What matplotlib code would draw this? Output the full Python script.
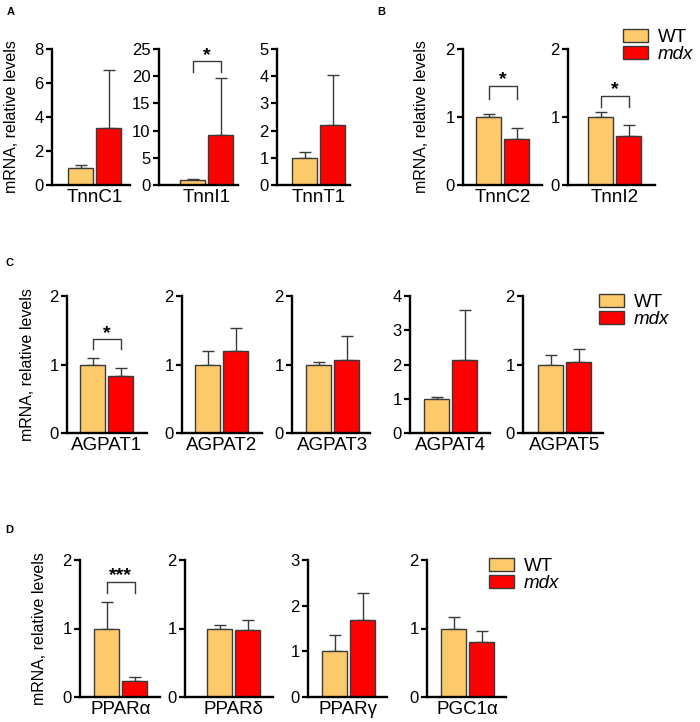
"""WT vs mdx mRNA levels, four panels of small bar charts (A-D)."""
import matplotlib
matplotlib.use("Agg")
import matplotlib.pyplot as plt
from matplotlib.patches import Patch

plt.rcParams["font.family"] = ["Liberation Sans", "DejaVu Sans"]

WT_COLOR = "#FDCA6B"
MDX_COLOR = "#FF0000"
EDGE = "#3a3a3a"

# --- data (mean, and upper error as distance above the mean) ---
genes_a = ["TnnC1", "TnnI1", "TnnT1"]
wt_a = [1.0, 1.0, 1.0]
wt_err_a = [0.2, 0.1, 0.22]
mdx_a = [3.35, 9.1, 2.22]
mdx_err_a = [3.4, 10.6, 1.83]
ymax_a = [8, 25, 5]
ystep_a = [2, 5, 1]
sig_a = [None, ("*", 20.7, 22.8), None]

genes_b = ["TnnC2", "TnnI2"]
wt_b = [1.0, 1.0]
wt_err_b = [0.05, 0.07]
mdx_b = [0.68, 0.72]
mdx_err_b = [0.16, 0.16]
ymax_b = [2, 2]
ystep_b = [1, 1]
sig_b = [("*", 1.27, 1.46), ("*", 1.15, 1.31)]

genes_c = ["AGPAT1", "AGPAT2", "AGPAT3", "AGPAT4", "AGPAT5"]
wt_c = [1.0, 1.0, 1.0, 1.0, 1.0]
wt_err_c = [0.1, 0.19, 0.04, 0.04, 0.14]
mdx_c = [0.83, 1.2, 1.07, 2.12, 1.04]
mdx_err_c = [0.12, 0.33, 0.35, 1.46, 0.19]
ymax_c = [2, 2, 2, 4, 2]
ystep_c = [1, 1, 1, 1, 1]
sig_c = [("*", 1.23, 1.37), None, None, None, None]

genes_d = ["PPARα", "PPARδ", "PPARγ", "PGC1α"]
wt_d = [1.0, 1.0, 1.0, 1.0]
wt_err_d = [0.38, 0.05, 0.35, 0.17]
mdx_d = [0.23, 0.98, 1.68, 0.8]
mdx_err_d = [0.06, 0.14, 0.6, 0.17]
ymax_d = [2, 2, 3, 2]
ystep_d = [1, 1, 1, 1]
sig_d = [("***", 1.52, 1.68), None, None, None]

FIG_W, FIG_H = 700, 722
UNIT = 28.0  # pixels between the two bar centres


def add_px_axes(fig, left, width, gap, top, zero):
    ax = fig.add_axes([left / FIG_W, 1 - zero / FIG_H, width / FIG_W, (zero - top) / FIG_H])
    x0 = -(gap + 12.5) / UNIT
    ax.set_xlim(x0, x0 + width / UNIT)
    return ax


def draw_gene(ax, gene, wt, wt_err, mdx, mdx_err, ymax, ystep, sig):
    ax.bar([0, 1], [wt, mdx], width=0.89, color=[WT_COLOR, MDX_COLOR],
           edgecolor=EDGE, linewidth=1.0, zorder=2)
    ax.errorbar([0, 1], [wt, mdx], yerr=[[0, 0], [wt_err, mdx_err]], fmt="none",
                ecolor=EDGE, elinewidth=1.0, capsize=4.5, capthick=1.0, zorder=1)
    ax.set_ylim(0, ymax)
    ax.set_yticks(range(0, ymax + 1, ystep))
    ax.set_xticks([0.5])
    ax.set_xticklabels([gene], fontsize=13.5)
    ax.tick_params(axis="x", length=0, pad=3)
    ax.tick_params(axis="y", length=4.5, width=1.6, pad=1.5, labelsize=12)
    for side in ("top", "right"):
        ax.spines[side].set_visible(False)
    for side in ("left", "bottom"):
        ax.spines[side].set_linewidth(1.7)
    if sig is not None:
        label, leg, top = sig
        ax.plot([0, 0, 1, 1], [leg, top, top, leg], color=EDGE, lw=1.0, clip_on=False)
        ax.annotate(label, (0.5, top), xytext=(0, 1), textcoords="offset points",
                    ha="center", va="baseline", fontsize=14, fontweight="bold",
                    annotation_clip=False)


def draw_row(fig, layout, top, zero, genes, wt, wt_err, mdx, mdx_err, ymax, ystep, sig):
    for i, (left, width, gap) in enumerate(layout):
        ax = add_px_axes(fig, left, width, gap, top, zero)
        draw_gene(ax, genes[i], wt[i], wt_err[i], mdx[i], mdx_err[i], ymax[i], ystep[i], sig[i])


def add_legend(fig, left, top):
    handles = [Patch(facecolor=WT_COLOR, edgecolor=EDGE, linewidth=1.0),
               Patch(facecolor=MDX_COLOR, edgecolor=EDGE, linewidth=1.0)]
    leg = fig.legend(handles, ["WT", "mdx"], loc="upper left",
                     bbox_to_anchor=(left / FIG_W, 1 - top / FIG_H), frameon=False,
                     fontsize=13.5, handlelength=1.35, handleheight=0.7,
                     handletextpad=0.5, labelspacing=0.0, borderpad=0, borderaxespad=0)
    leg.get_texts()[1].set_style("italic")


def ylabel(fig, x, top, zero):
    fig.text(x / FIG_W, 1 - (top + zero) / 2 / FIG_H, "mRNA, relative levels",
             rotation=90, ha="center", va="center", fontsize=11.5)


def panel_letter(fig, letter, x, y):
    fig.text(x / FIG_W, 1 - y / FIG_H, letter, ha="left", va="center",
             fontsize=8, fontweight="bold")


fig = plt.figure(figsize=(7, 7.22), dpi=100)

# rows: (left px, width px, px from spine to first bar)
draw_row(fig, [(52, 78, 16), (159, 79, 21), (277, 73, 15)], 49, 185,
         genes_a, wt_a, wt_err_a, mdx_a, mdx_err_a, ymax_a, ystep_a, sig_a)
draw_row(fig, [(463, 79, 13), (568, 87, 20)], 49, 185,
         genes_b, wt_b, wt_err_b, mdx_b, mdx_err_b, ymax_b, ystep_b, sig_b)
draw_row(fig, [(67, 80, 13), (182, 80, 13), (292, 78, 14), (410, 80, 14), (523, 80, 15)], 296, 433,
         genes_c, wt_c, wt_err_c, mdx_c, mdx_err_c, ymax_c, ystep_c, sig_c)
draw_row(fig, [(80, 80, 14), (185, 88, 22), (308, 79, 14), (427, 79, 14)], 560, 697,
         genes_d, wt_d, wt_err_d, mdx_d, mdx_err_d, ymax_d, ystep_d, sig_d)

ylabel(fig, 12, 49, 185)
ylabel(fig, 422, 49, 185)
ylabel(fig, 27, 296, 433)
ylabel(fig, 40, 560, 697)

add_legend(fig, 623, 29)
add_legend(fig, 599, 294)
add_legend(fig, 489, 558)

panel_letter(fig, "A", 7, 12)
panel_letter(fig, "B", 377, 12)
panel_letter(fig, "C", 6, 263)
panel_letter(fig, "D", 5, 530)

fig.savefig("out.png", dpi=100)
